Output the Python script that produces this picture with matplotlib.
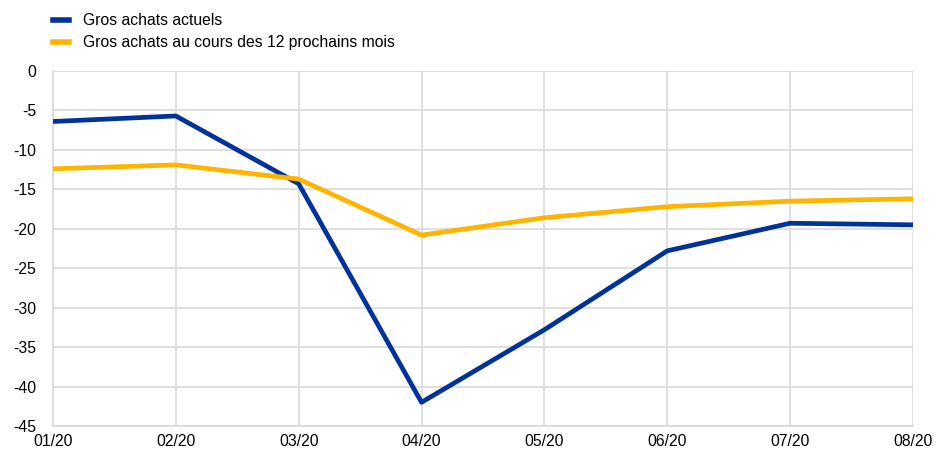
import matplotlib
matplotlib.use("Agg")
import matplotlib.pyplot as plt
from matplotlib.lines import Line2D

months = ["01/20", "02/20", "03/20", "04/20", "05/20", "06/20", "07/20", "08/20"]
actuels = [-6.4, -5.7, -14.3, -42.0, -32.8, -22.8, -19.3, -19.5]
prochains = [-12.4, -11.9, -13.7, -20.8, -18.6, -17.2, -16.5, -16.2]
labels = ["Gros achats actuels", "Gros achats au cours des 12 prochains mois"]

plt.rcParams["font.family"] = ["Liberation Sans", "DejaVu Sans"]
plt.rcParams["axes.unicode_minus"] = False

fig = plt.figure(figsize=(9.36, 4.54), dpi=100)
ax = fig.add_axes([0.0566, 0.0617, 0.9188, 0.7819])

x = range(len(months))
ax.plot(x, actuels, color="#003299", lw=3.4, solid_capstyle="butt", zorder=3)
ax.plot(x, prochains, color="#FFB400", lw=3.4, solid_capstyle="butt", zorder=3)

ax.set_xlim(0, len(months) - 1)
ax.set_ylim(-45, 0)
ax.set_xticks(list(x))
ax.set_xticklabels(months)
ax.set_yticks(range(-45, 1, 5))
ax.grid(True, color="#d9d9d9", lw=1.2)
ax.set_axisbelow(True)
for s in ["top", "right"]:
    ax.spines[s].set_visible(False)
for s in ["left", "bottom"]:
    ax.spines[s].set_color("#d9d9d9")
    ax.spines[s].set_linewidth(1.2)
ax.tick_params(length=0, labelsize=11.3, colors="#000000")
ax.tick_params(axis="y", pad=12)
ax.tick_params(axis="x", pad=6)

handles = [Line2D([], [], color="#003299", lw=4), Line2D([], [], color="#FFB400", lw=4)]
fig.legend(handles, labels, loc="upper left", bbox_to_anchor=(0.045, 0.995),
           frameon=False, fontsize=11.3, handlelength=1.0, handletextpad=0.9,
           labelspacing=0.45, borderaxespad=0.3)

fig.savefig("out.png", dpi=100)
